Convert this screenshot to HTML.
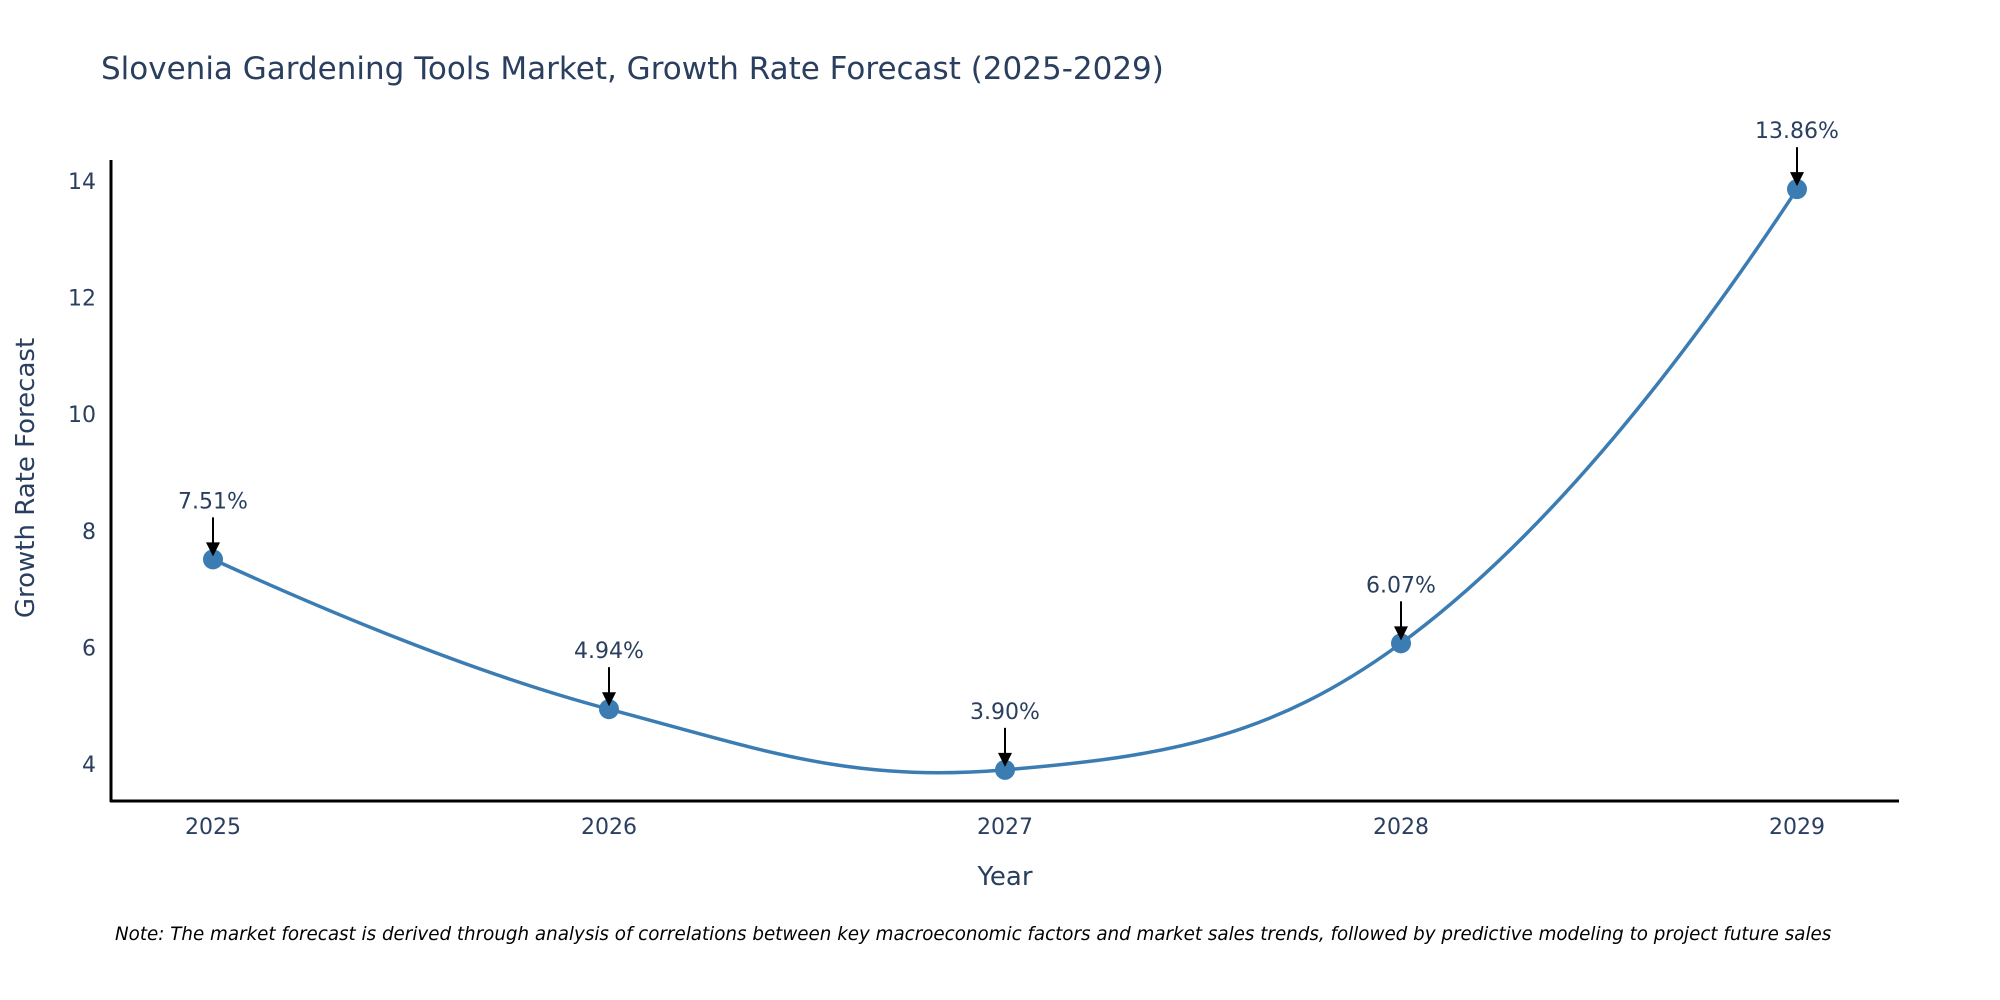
<!DOCTYPE html>
<html><head><meta charset="utf-8"><style>
html,body{margin:0;padding:0;background:#fff;}
svg{display:block;font-family:"DejaVu Sans","Liberation Sans",sans-serif;}
</style></head><body>
<svg id="chart" width="2000" height="1000" viewBox="0 0 2000 1000">
<text x="101" y="79" font-size="31" fill="#2a3f5f">Slovenia Gardening Tools Market, Growth Rate Forecast (2025-2029)</text>
<g id="yticks"></g>
<g id="xticks"></g>
<line x1="111" y1="160" x2="111" y2="802" stroke="#000" stroke-width="3"/>
<line x1="110" y1="801" x2="1899" y2="801" stroke="#000" stroke-width="3"/>
<path id="line" fill="none" stroke="#3b7db3" stroke-width="3.5"/>
<g id="points"></g>
<g id="labels"></g>
<text x="1005" y="885" font-size="26" fill="#2a3f5f" text-anchor="middle">Year</text>
<text transform="translate(34,478) rotate(-90)" font-size="26" fill="#2a3f5f" text-anchor="middle">Growth Rate Forecast</text>
<text x="115" y="940" font-size="18.3" font-style="italic" fill="#000">Note: The market forecast is derived through analysis of correlations between key macroeconomic factors and market sales trends, followed by predictive modeling to project future sales</text>
</svg>
<script>
const years = [2025, 2026, 2027, 2028, 2029];
const growthValues = [7.51, 4.94, 3.90, 6.07, 13.86];
const valueLabels = ["7.51%", "4.94%", "3.90%", "6.07%", "13.86%"];
const yTickValues = [4, 6, 8, 10, 12, 14];

const NS = "http://www.w3.org/2000/svg";
function xScale(v){ return 213 + (v - 2025) * 396; }
function yScale(v){ return 764 - (v - 4) * 58.3; }
function mk(tag, attrs, parent){ const e = document.createElementNS(NS, tag); for (const k in attrs) e.setAttribute(k, attrs[k]); parent.appendChild(e); return e; }

const yt = document.getElementById('yticks');
yTickValues.forEach(v => {
  const t = mk('text', {x: 96, y: yScale(v) + 8, 'font-size': 22, fill: '#2a3f5f', 'text-anchor': 'end'}, yt);
  
  
  t.textContent = v;
});
const xt = document.getElementById('xticks');
years.forEach(v => {
  const t = mk('text', {x: xScale(v), y: 834, 'font-size': 22, fill: '#2a3f5f', 'text-anchor': 'middle'}, xt);
  
  
  t.textContent = v;
});

const pts = years.map((y, i) => [xScale(y), yScale(growthValues[i])]);
// plotly-like spline: tangent at interior points, handle lengths weighted by segment distances
const n = pts.length, kf = 0.4;
const cb = [], ca = [];
for (let i = 1; i < n - 1; i++) {
  const p0 = pts[i-1], p1 = pts[i], p2 = pts[i+1];
  const d1 = Math.hypot(p1[0]-p0[0], p1[1]-p0[1]), d2 = Math.hypot(p2[0]-p1[0], p2[1]-p1[1]);
  const tx = p2[0]-p0[0], ty = p2[1]-p0[1];
  const s1 = kf*d1/(d1+d2), s2 = kf*d2/(d1+d2);
  cb[i] = [p1[0]-tx*s1, p1[1]-ty*s1];
  ca[i] = [p1[0]+tx*s2, p1[1]+ty*s2];
}
let d = 'M' + pts[0][0] + ',' + pts[0][1];
d += ' Q' + cb[1][0] + ',' + cb[1][1] + ' ' + pts[1][0] + ',' + pts[1][1];
for (let i = 1; i < n - 2; i++) {
  d += ' C' + ca[i][0] + ',' + ca[i][1] + ' ' + cb[i+1][0] + ',' + cb[i+1][1] + ' ' + pts[i+1][0] + ',' + pts[i+1][1];
}
d += ' Q' + ca[n-2][0] + ',' + ca[n-2][1] + ' ' + pts[n-1][0] + ',' + pts[n-1][1];
document.getElementById('line').setAttribute('d', d);

const pg = document.getElementById('points');
const lg = document.getElementById('labels');
pts.forEach((p, i) => {
  const c = mk('circle', {cx: p[0], cy: p[1], r: 10, fill: '#3b7db3'}, pg);
  
  
  const a = mk('line', {x1: p[0], y1: p[1] - 42, x2: p[0], y2: p[1] - 14, stroke: '#000', 'stroke-width': 2}, lg);
  
  
  const h = mk('polygon', {points: (p[0]-7)+','+(p[1]-17)+' '+(p[0]+7)+','+(p[1]-17)+' '+p[0]+','+(p[1]-3), fill: '#000'}, lg);
  
  
  const t = mk('text', {x: p[0], y: p[1] - 51, 'font-size': 22, fill: '#2a3f5f', 'text-anchor': 'middle'}, lg);
  
  
  t.textContent = valueLabels[i];
});
</script>
</body></html>
